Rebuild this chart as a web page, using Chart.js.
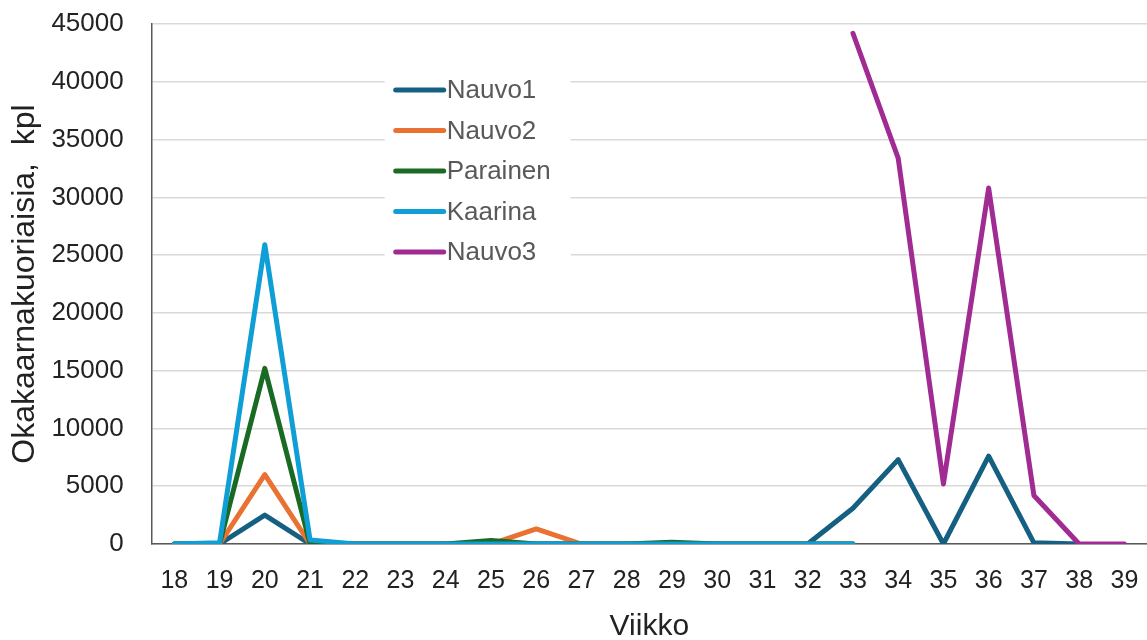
<!DOCTYPE html>
<html lang="fi">
<head>
<meta charset="utf-8">
<title>Okakaarnakuoriaisia viikoittain</title>
<script src="https://cdn.jsdelivr.net/npm/chart.js@4.4.1/dist/chart.umd.min.js"></script>
<style>
  html, body { margin: 0; padding: 0; background: #ffffff; }
  #wrap { position: relative; width: 1147px; height: 640px; }
</style>
</head>
<body>
<div id="wrap"><canvas id="chart"></canvas></div>
<script>
// Viikot (x-akseli)
const weeks = ['18','19','20','21','22','23','24','25','26','27','28','29','30','31','32','33','34','35','36','37','38','39'];

// Pyydetyt okakaarnakuoriaiset (kpl) paikoittain, viikot 18–39
const nauvo1   = [0, 0, 2500, 0, 0, 0, 0, 0, 0, 0, 0, 0, 0, 0, 0, 3100, 7300, 0, 7600, 100, 0, null];
const nauvo2   = [0, 0, 6000, 0, 0, 0, 0, 0, 1300, 0, 0, 0, 0, 0, 0, 0, null, null, null, null, null, null];
const parainen = [0, 0, 15200, 0, 0, 0, 0, 300, 0, 0, 0, 150, 0, 0, 0, 0, null, null, null, null, null, null];
const kaarina  = [0, 100, 25900, 350, 0, 0, 0, 0, 0, 0, 0, 0, 0, 0, 0, 0, null, null, null, null, null, null];
const nauvo3   = [null, null, null, null, null, null, null, null, null, null, null, null, null, null, null, 44200, 33400, 5200, 30800, 4200, 0, 0];

// Y-akselin asteikko
const yMin = 0;
const yMax = 45000;
const yStep = 5000;

const seriesNames  = ['Nauvo1', 'Nauvo2', 'Parainen', 'Kaarina', 'Nauvo3'];
const seriesData   = [nauvo1, nauvo2, parainen, kaarina, nauvo3];
const seriesColors = ['#156082', '#E97132', '#196B24', '#0F9ED5', '#A02B93'];

const FONT = "'Liberation Sans', Arial, sans-serif";

// Selite piirretään kuva-alueen sisään valkoiselle pohjalle
const insideLegend = {
  id: 'insideLegend',
  beforeDatasetsDraw(chart) {
    const { ctx, chartArea } = chart;
    const boxX = chartArea.left + 233;
    const boxY = chartArea.top + 44;
    const boxW = 186;
    const boxH = 204;
    const rowGap = 40.5;
    ctx.save();
    ctx.fillStyle = '#ffffff';
    ctx.fillRect(boxX, boxY, boxW, boxH);
    ctx.font = '26px ' + FONT;
    ctx.textBaseline = 'middle';
    ctx.textAlign = 'left';
    chart.data.datasets.forEach((ds, i) => {
      const y = boxY + 22 + i * rowGap;
      ctx.strokeStyle = ds.borderColor;
      ctx.lineWidth = 5;
      ctx.lineCap = 'round';
      ctx.beginPath();
      ctx.moveTo(boxX + 11, y);
      ctx.lineTo(boxX + 59, y);
      ctx.stroke();
      ctx.fillStyle = '#595959';
      ctx.fillText(ds.label, boxX + 62, y + 1);
    });
    ctx.restore();
  }
};

const datasets = seriesNames.map((name, i) => ({
  label: name,
  data: seriesData[i],
  borderColor: seriesColors[i],
  backgroundColor: seriesColors[i],
  borderWidth: 5,
  borderCapStyle: 'round',
  borderJoinStyle: 'round',
  pointRadius: 0,
  pointHoverRadius: 0,
  tension: 0,
  fill: false,
  spanGaps: false,
  // later series are drawn on top
  order: seriesNames.length - i
}));

new Chart(document.getElementById('chart'), {
  type: 'line',
  data: { labels: weeks, datasets },
  plugins: [insideLegend],
  options: {
    responsive: true,
    maintainAspectRatio: false,
    animation: false,
    layout: { padding: { top: 24, right: 0, bottom: 0, left: 4 } },
    plugins: {
      legend: { display: false },
      tooltip: { enabled: false }
    },
    scales: {
      x: {
        offset: true,
        grid: { display: false, drawTicks: true, tickLength: 22, tickColor: 'rgba(0,0,0,0)' },
        border: { display: true, color: '#595959', width: 1.5 },
        ticks: {
          color: '#222222',
          font: { family: FONT, size: 25 },
          padding: 0,
          maxRotation: 0,
          autoSkip: false
        },
        title: {
          display: true,
          text: 'Viikko',
          color: '#222222',
          font: { family: FONT, size: 30, lineHeight: 0.9 },
          padding: { top: 17, bottom: 0 }
        }
      },
      y: {
        min: yMin,
        max: yMax,
        grid: { color: '#d9d9d9', lineWidth: 1.5, drawTicks: true, tickLength: 28, tickColor: 'rgba(0,0,0,0)' },
        border: { display: true, color: '#595959', width: 1.5 },
        ticks: {
          stepSize: yStep,
          color: '#222222',
          font: { family: FONT, size: 26 },
          padding: 0,
          callback: (v) => String(v)
        },
        title: {
          display: true,
          text: 'Okakaarnakuoriaisia,  kpl',
          color: '#222222',
          font: { family: FONT, size: 32 },
          padding: { top: 2, bottom: 7 }
        }
      }
    }
  }
});
</script>
</body>
</html>
